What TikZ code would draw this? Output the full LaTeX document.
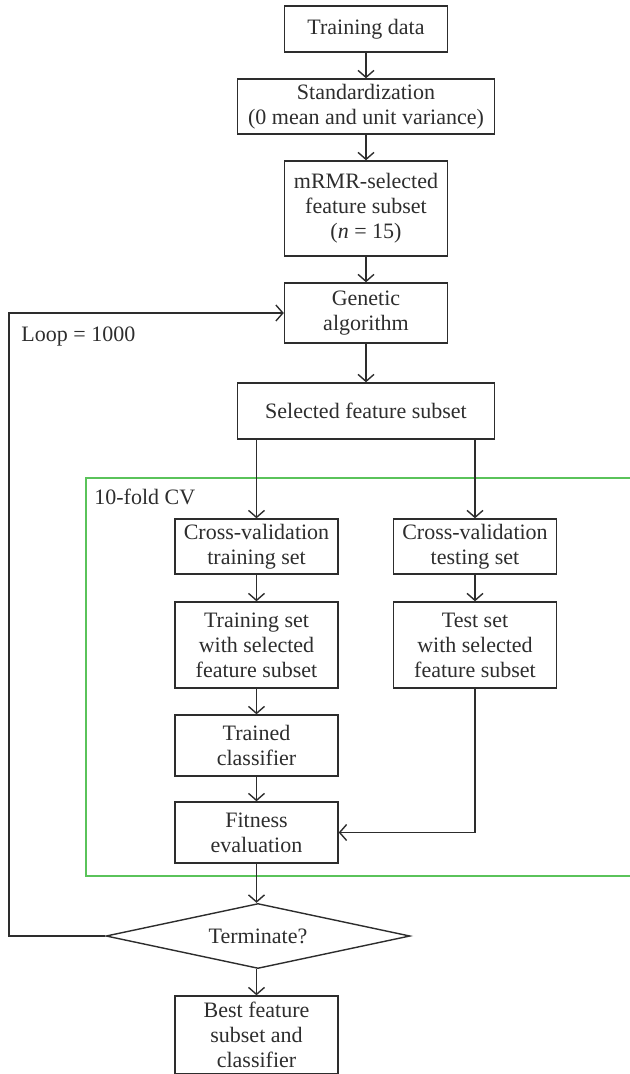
\documentclass[tikz,border=0pt]{standalone}
\usepackage{fontspec}
\setmainfont{Liberation Serif}
\usetikzlibrary{arrows.meta,shapes.geometric}

\definecolor{inkgray}{RGB}{45,45,45}
\definecolor{cvgreen}{RGB}{90,195,90}

\tikzset{
    box/.style={draw=inkgray, line width=0.7pt, align=center, inner sep=2pt, text=inkgray,
        font=\fontsize{11}{12.5}\selectfont},
    narrowbox/.style={box, minimum width=81.5pt},
    widebox/.style={box, minimum width=128.5pt},
    label/.style={anchor=west, text=inkgray, inner sep=0pt, font=\fontsize{11}{12.5}\selectfont},
    flow/.style={draw=inkgray, line width=0.7pt, -{Straight Barb[length=3.5pt,width=8pt]}},
}

\begin{document}
\begin{tikzpicture}[x=0.5pt, y=-0.5pt]
    \useasboundingbox (0,0) rectangle (630,1074);

    % main column
    \node[narrowbox, minimum height=23pt] (train) at (366,29) {Training data};
    \node[widebox, minimum height=27.5pt] (std) at (366,106.5) {Standardization\\(0 mean and unit variance)};
    \node[narrowbox, minimum height=47.5pt] (mrmr) at (366,208.5) {mRMR-selected\\feature subset\\(\textit{n} = 15)};
    \node[narrowbox, minimum height=30pt] (ga) at (366,313) {Genetic\\algorithm};
    \node[widebox, minimum height=28pt] (sel) at (366,411) {Selected feature subset};

    % cross-validation branch
    \node[narrowbox, minimum height=27.5pt] (cvtrain) at (256.5,546.5) {Cross-validation\\training set};
    \node[narrowbox, minimum height=27.5pt] (cvtest) at (475,546.5) {Cross-validation\\testing set};
    \node[narrowbox, minimum height=43pt] (trset) at (256.5,645) {Training set\\with selected\\feature subset};
    \node[narrowbox, minimum height=43pt] (teset) at (475,645) {Test set\\with selected\\feature subset};
    \node[narrowbox, minimum height=30.5pt] (trcl) at (256.5,745.5) {Trained\\classifier};
    \node[narrowbox, minimum height=30.5pt] (fit) at (256.5,832.5) {Fitness\\evaluation};

    % decision and result
    \node[box, diamond, aspect=4.7, inner sep=0pt, minimum width=152pt, minimum height=32.5pt] (term) at (258,936) {Terminate?};
    \node[narrowbox, minimum height=39pt] (best) at (256.5,1035) {Best feature\\subset and\\classifier};

    % 10-fold CV frame
    \draw[cvgreen, line width=0.6pt] (86,478) rectangle (640,876);
    \node[label] (cvlabel) at (94,497) {10-fold CV};
    \node[label] (looplabel) at (21,337) {Loop = 1000};

    \coordinate (loopx) at (9,600);

    \draw[flow] (train) -- (std);
    \draw[flow] (std) -- (mrmr);
    \draw[flow] (mrmr) -- (ga);
    \draw[flow] (ga) -- (sel);
    \draw[flow] (sel.south -| cvtrain.north) -- (cvtrain.north);
    \draw[flow] (sel.south -| cvtest.north) -- (cvtest.north);
    \draw[flow] (cvtrain) -- (trset);
    \draw[flow] (cvtest) -- (teset);
    \draw[flow] (trset) -- (trcl);
    \draw[flow] (trcl) -- (fit);
    \draw[flow] (teset.south) |- (fit.east);
    \draw[flow] (fit.south) -- (fit.south |- term.north);
    \draw[flow] (term.south -| best.north) -- (best.north);
    \draw[flow] (term.west) -| (loopx) |- (ga.west);
\end{tikzpicture}
\end{document}
